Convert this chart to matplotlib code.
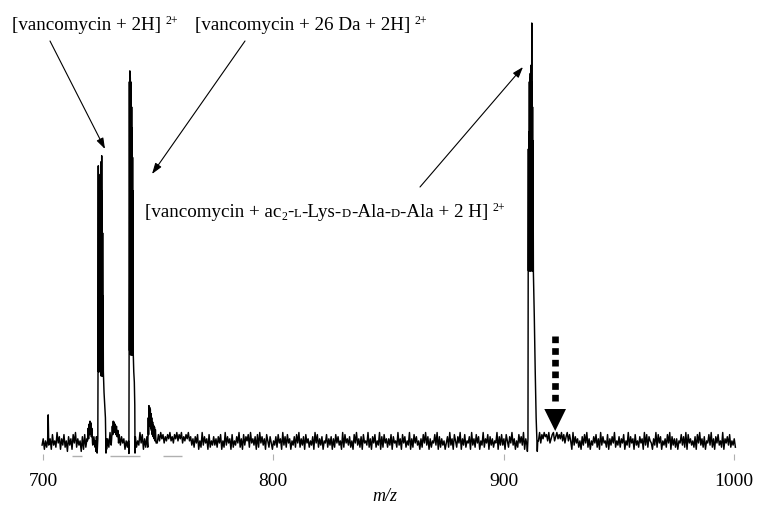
import numpy as np
import matplotlib
matplotlib.use("Agg")
import matplotlib.pyplot as plt
from matplotlib.lines import Line2D
from matplotlib.patches import Polygon

plt.rcParams['font.family'] = ['Liberation Serif', 'DejaVu Serif']

# ---------------- data ----------------
# baseline noise, one digit per 0.5 m/z starting at 699.6 (0 = low, 9 = high)
noise_start = 699.6
noise_step = 0.5
noise_digits = (
    "36152746183529471638250736184926350718264915372846"
    "25374816293746152837461529384716253948162735481926"
    "485968475869574869586947586957" "36274815293746182537"
    "36274815293746182537492618375829463718294736185274"
    "15372846193728461537284926371846253719482637154826"
    "37162847351928463725184936271845392617482539172846"
    "26381745293618472539162847351628493716254839172635"
    "14729361852749163825471936284715392648173625491738"
    "3618527493615284739162584731926" "5948697859468957968"
    "6958479585" "1937462517384926153748261937452816374925"
    "37264815392746183527461938275416392847153628491736"
    "26154837291846352718493627154839261748352916473825"
    "362"
)

spike702_mz = [702.0, 702.25, 702.5]
spike702_int = [0.5, 6.7, -0.5]

bump721_mz = [719.3, 719.6, 719.8, 720.0, 720.2, 720.4, 720.6, 720.8, 721.0, 721.2, 721.5]
bump721_int = [0.5, 3.5, 1.0, 4.5, 2.0, 5.2, 2.5, 4.8, 1.5, 3.5, 0.0]

peak725_mz = [722.8, 723.0, 723.2, 723.5, 723.8, 723.95, 724.0, 724.1, 724.2, 724.3, 724.4,
              724.5, 724.6, 724.75, 724.9, 725.05, 725.15, 725.25, 725.35, 725.49, 725.6,
              725.7, 725.8, 725.9, 726.0, 726.1, 726.2, 726.5, 726.9, 727.1, 727.35, 727.5]
peak725_int = [0.5, -2.0, 1.5, -2.4, 1.0, 30, 66, 17, 64, 17, 60,
               17, 22, 17, 18, 66, 16, 67, 16, 68.4, 16,
               60, 16, 50, 16, 35, 17, 12, 8, 6, -2.4, 1.0]

bump731_mz = [729.8, 730.1, 730.3, 730.5, 730.7, 730.9, 731.1, 731.3, 731.6, 731.9, 732.2, 732.5, 732.8]
bump731_int = [1.0, 4.0, 2.0, 5.2, 3.0, 5.0, 2.5, 4.5, 2.0, 4.0, 1.5, 3.0, 0.0]

peak738_mz = [737.1, 737.3, 737.45, 737.5, 737.6, 737.7, 737.8, 737.9, 738.0, 738.1, 738.2,
              738.3, 738.4, 738.5, 738.6, 738.7, 738.8, 738.9, 739.0, 739.1, 739.2, 739.4,
              739.65, 739.85, 739.95, 740.1]
peak738_int = [0.5, -2.5, 40, 86, 22, 88.6, 22, 87, 21, 86, 21,
               84, 21, 80, 21, 75, 21, 68, 21, 60, 21, 17,
               14.5, 9, -2.4, 1.5]

peak746_mz = [745.5, 745.7, 745.85, 746.0, 746.15, 746.3, 746.45, 746.6, 746.75, 746.9, 747.05,
              747.2, 747.4, 747.6, 747.8, 748.0, 748.2, 748.4, 748.6, 748.8, 749.1]
peak746_int = [-1.0, 6.0, 2.0, 8.9, 4.0, 8.5, 4.0, 8.0, 3.5, 7.0, 3.0,
               6.0, 2.0, 5.0, 1.5, 4.2, 1.0, 3.8, 0.5, 3.2, 0.0]

peak912_mz = [910.1, 910.3, 910.55, 910.72, 910.8, 910.9, 911.0, 911.1, 911.16, 911.25, 911.35,
              911.45, 911.55, 911.65, 911.75, 911.85, 911.95, 912.05, 912.15, 912.2, 912.25,
              912.35, 912.45, 912.55, 912.65, 912.75, 912.9, 913.3, 913.7, 914.1, 914.35,
              914.6, 914.8]
peak912_int = [-0.5, -2.0, 1.0, 70, 41, 74, 41, 80, 86, 41, 87,
               41, 88, 41, 89, 41, 90, 41, 95, 100, 60,
               86, 41, 80, 41, 72, 40.7, 30, 17, 6, 1.7,
               -2.0, 0.5]

baseline_seg_start = [712.6, 729.1, 752.1]
baseline_seg_end = [716.9, 742.1, 760.4]
baseline_seg_level = [-3.1, -3.1, -3.1]

tick_values = [700, 800, 900, 1000]
tick_labels = ['700', '800', '900', '1000']

label_h2 = "[vancomycin + 2H]"
label_26 = "[vancomycin + 26 Da + 2H]"
charge = "2+"

# ---------------- build spectrum ----------------
features = [(spike702_mz, spike702_int), (bump721_mz, bump721_int),
            (peak725_mz, peak725_int), (bump731_mz, bump731_int),
            (peak738_mz, peak738_int), (peak746_mz, peak746_int),
            (peak912_mz, peak912_int)]

noise_mz = noise_start + noise_step * np.arange(len(noise_digits))
noise_int = (np.array([int(c) for c in noise_digits]) - 4) * 0.5
keep = np.ones(len(noise_mz), dtype=bool)
for fm, fi in features:
    keep &= ~((noise_mz >= min(fm)) & (noise_mz <= max(fm)))
all_mz = np.concatenate([noise_mz[keep]] + [np.asarray(f[0]) for f in features])
all_int = np.concatenate([noise_int[keep]] + [np.asarray(f[1]) for f in features])
order = np.argsort(all_mz, kind='stable')
all_mz, all_int = all_mz[order], all_int[order]

# ---------------- figure ----------------
W, H = 757, 506
fig = plt.figure(figsize=(W / 100, H / 100), dpi=100)
BASE_PX, PX_PER_UNIT = 444, 4.2
ax = fig.add_axes([43 / W, (H - 455) / H, 691 / W, 445 / H])
ax.plot(all_mz, all_int, color='black', lw=1.05, clip_on=False)
ax.hlines(baseline_seg_level, baseline_seg_start, baseline_seg_end,
          colors='#b0b0b0', lw=1.0, clip_on=False)
ax.set_xlim(700, 1000)
ax.set_ylim((BASE_PX - 455) / PX_PER_UNIT, (BASE_PX - 10) / PX_PER_UNIT)
for s in ax.spines.values():
    s.set_visible(False)
ax.set_yticks([])
ax.set_xticks(tick_values)
ax.set_xticklabels(tick_labels, fontsize=14)
ax.tick_params(axis='x', length=4.3, width=0.8, color='#b0b0b0', pad=9)
ax.patch.set_alpha(0)

fig.text(385 / W, (H - 501) / H, 'm/z', style='italic', fontsize=13,
         ha='center', va='baseline')

renderer = fig.canvas.get_renderer()


def rich(x_px, base_px, pieces):
    x = x_px
    for s, size, rise, gap in pieces:
        t = fig.text(x / W, (H - base_px + rise) / H, s, fontsize=size,
                     ha='left', va='baseline')
        x += t.get_window_extent(renderer).width + gap


F, SUP, SC = 13.7, 8.6, 9.2
rich(12, 29.5, [(label_h2, F, 0, 4), (charge, SUP, 5.5, 0)])
rich(195, 29.5, [(label_26, F, 0, 4), (charge, SUP, 5.5, 0)])
rich(145, 216.7, [("[vancomycin + ac", F, 0, 0), ("2", SUP, -3.5, 0), ("-", F, 0, 0),
                  ("L", SC, 0, 0), ("-Lys-", F, 0, 0), ("D", SC, 0, 0),
                  ("-Ala-", F, 0, 0), ("D", SC, 0, 0), ("-Ala + 2 H]", F, 0, 4),
                  (charge, SUP, 5.5, 0)])

aprops = dict(arrowstyle='-|>,head_length=0.65,head_width=0.22', color='black',
              lw=0.8, shrinkA=0, shrinkB=0)
for (x0, y0), (x1, y1) in [((50, 42), (105, 150)), ((245, 42), (152, 175)),
                           ((420, 188), (523, 68))]:
    ax.annotate('', xy=(x1, H - y1), xycoords='figure pixels',
                xytext=(x0, H - y0), textcoords='figure pixels', arrowprops=aprops)

fig.add_artist(Line2D([555 / W, 555 / W], [(H - 337) / H, (H - 402.5) / H],
                      transform=fig.transFigure, lw=4.8, color='black',
                      linestyle=(0, (1.0, 0.75)), dash_capstyle='butt'))
fig.add_artist(Polygon([(544.3 / W, (H - 410) / H), (566 / W, (H - 410) / H),
                        (555.2 / W, (H - 432) / H)], closed=True,
                       transform=fig.transFigure, color='black', lw=0))

fig.savefig('out.png', dpi=100)
